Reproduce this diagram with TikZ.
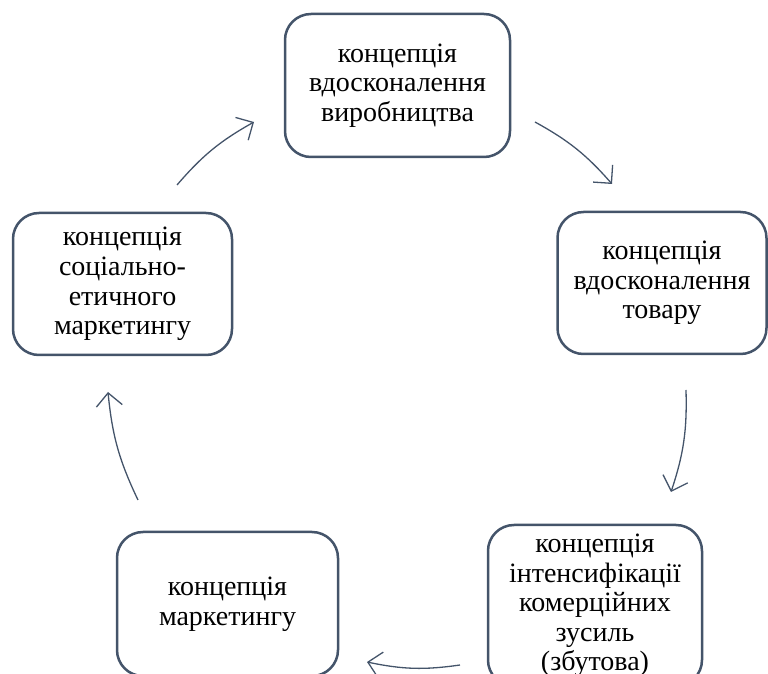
\documentclass[tikz,border=0pt]{standalone}
\usepackage{fontspec}
\setmainfont{Liberation Serif}
\usepackage{xcolor}
\usepackage{tikz}
\usetikzlibrary{calc, arrows.meta, positioning}
\definecolor{temno}{HTML}{44546A}

\begin{document}
\begin{tikzpicture}[x=0.5pt, y=0.5pt,
    blok/.style={draw=temno, line width=1.25pt, rounded corners=13pt, align=center,
                 font=\fontsize{14}{14.8}\selectfont, inner sep=0pt},
    strilka/.style={draw=temno, line width=0.65pt, -{Straight Barb[length=6.5pt, width=13pt]}, bend left=10}]
    % Межі малюнка
    \useasboundingbox (0,0) rectangle (768,-674);
    \clip (0,0) rectangle (768,-674);

    % Блоки циклу
    \node[blok, minimum width=112.5pt, minimum height=71.5pt] (vyrob) at (397.5,-85.5)
        {концепція\\вдосконалення\\виробництва};
    \node[blok, minimum width=104.5pt, minimum height=71pt] (tovar) at (662,-283)
        {концепція\\вдосконалення\\товару};
    \node[blok, minimum width=107pt, minimum height=80.5pt] (zbut) at (595,-605.5)
        {концепція\\інтенсифікації\\комерційних\\зусиль\\(збутова)};
    \node[blok, minimum width=110.5pt, minimum height=72pt] (market) at (227.5,-604)
        {концепція\\маркетингу};
    \node[blok, minimum width=109.5pt, minimum height=71pt] (sotsial) at (122.5,-284)
        {концепція\\соціально-\\етичного\\маркетингу};

    % Кінці стрілок
    \coordinate (p1) at (535,-122);  \coordinate (q1) at (612,-184);
    \coordinate (p2) at (686,-390);  \coordinate (q2) at (671,-492);
    \coordinate (p3) at (460,-665);  \coordinate (q3) at (367,-662);
    \coordinate (p4) at (138,-500);  \coordinate (q4) at (108,-392);
    \coordinate (p5) at (177,-185);  \coordinate (q5) at (254,-122);

    % Стрілки
    \foreach \i in {1,...,5}
        \draw[strilka] (p\i) to (q\i);
\end{tikzpicture}
\end{document}
